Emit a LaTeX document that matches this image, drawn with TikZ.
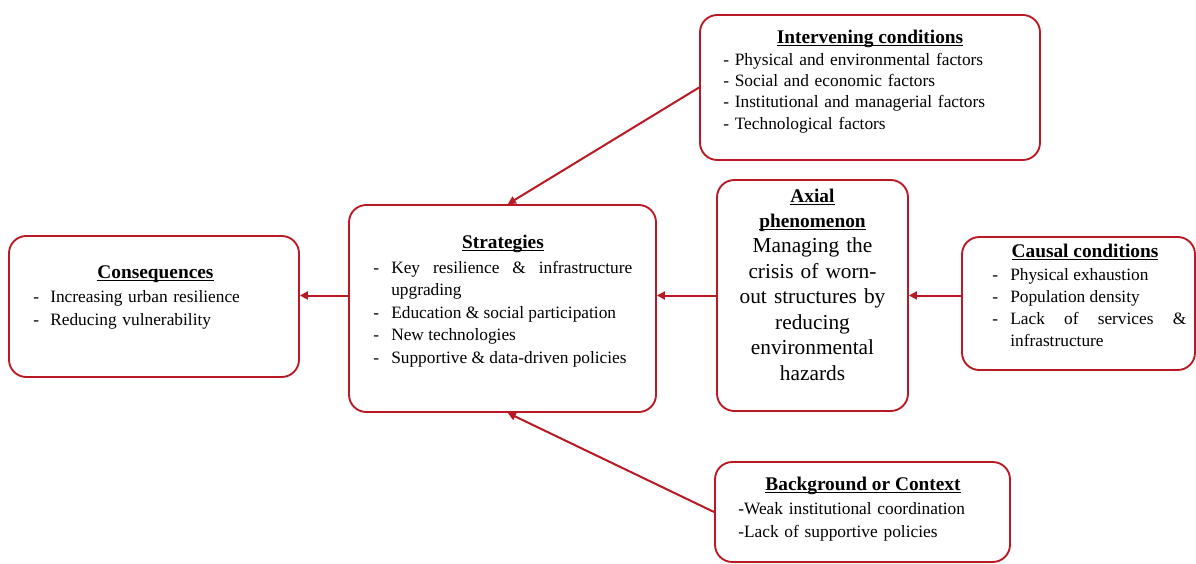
\documentclass[tikz,border=0pt]{standalone}
\usepackage{fontspec}
\setmainfont{Liberation Serif}
\usetikzlibrary{arrows.meta,fit}
\definecolor{bred}{RGB}{185,25,35}
\newcommand{\itm}[2][13.5pt]{\noindent\hangindent=#1\hangafter=1\makebox[#1][l]{-}#2\par}
\newsavebox{\ttlbox}
\newcommand{\ttl}[1]{\sbox{\ttlbox}{\textbf{#1}}\usebox{\ttlbox}\llap{\rule[-1.9pt]{\wd\ttlbox}{0.7pt}}}
\begin{document}
\begin{tikzpicture}[x=0.75pt,y=-0.75pt,
  box/.style={draw=bred, line width=1.4pt, rounded corners=13pt, fill=white, inner sep=0pt},
  arr/.style={draw=bred, line width=1.5pt, -{Triangle[length=6pt,width=6pt]}},
  body/.style={inner sep=0pt, anchor=base west, execute at begin node={\hyphenpenalty=10000\exhyphenpenalty=10000}},
  ttlfont/.style={font=\fontsize{14.5}{17}\selectfont, inner sep=0pt, anchor=base}]
\useasboundingbox (0,0) rectangle (1196,564);

% boxes
\node[box, fit={(700,15) (1040,160)}] (intv) {};
\node[box, fit={(349,205) (656,412)}] (strat) {};
\node[box, fit={(717,180) (908,411)}] (axial) {};
\node[box, fit={(962,237) (1195,370)}] (causal) {};
\node[box, fit={(9,236) (299,377)}] (cons) {};
\node[box, fit={(715,462) (1010,562)}] (bg) {};

% titles
\node[ttlfont] (intvT) at (870,43) {\ttl{Intervening conditions}};
\node[ttlfont] (stratT) at (503,248) {\ttl{Strategies}};
\node[ttlfont] (causalT) at (1085,257) {\ttl{Causal conditions}};
\node[ttlfont] (consT) at (155.5,278) {\ttl{Consequences}};
\node[ttlfont] (bgT) at (863,490) {\ttl{Background or Context}};

% bodies
\node[body, text width=228pt, align=left, font=\fontsize{13}{16.1}\selectfont] (intvB) at (723,65)
  {- Physical and environmental factors\\- Social and economic factors\\- Institutional and managerial factors\\- Technological factors};
\node[body, text width=194.25pt, align=justify, font=\fontsize{13}{16.9}\selectfont] (stratB) at (373,273)
  {\itm{Key resilience \& infrastructure upgrading}\itm{Education \& social participation}\itm{New technologies}\itm{Supportive \& data-driven policies}};
\node[body, text width=145.5pt, align=justify, font=\fontsize{13}{16.5}\selectfont] (causalB) at (992,280)
  {\itm{Physical exhaustion}\itm{Population density}\itm{Lack of services \& infrastructure}};
\node[body, text width=195pt, align=left, font=\fontsize{13}{17.25}\selectfont] (consB) at (33,302)
  {\itm[12.75pt]{Increasing urban resilience}\itm[12.75pt]{Reducing vulnerability}};
\node[body, text width=210pt, align=left, font=\fontsize{13}{17.25}\selectfont] (bgB) at (738,514)
  {-Weak institutional coordination\\-Lack of supportive policies};
\node[inner sep=0pt, anchor=base, align=center, text width=140pt, font=\fontsize{16}{19.1}\selectfont] (axialT) at (812.5,202)
  {\ttl{\fontsize{14.5}{19.1}\selectfont Axial}\\\ttl{\fontsize{14.5}{19.1}\selectfont phenomenon}\\Managing the\\crisis of worn-\\out structures by\\reducing\\environmental\\hazards};

% connectors
\draw[arr] (intv.west) -- ([xshift=4pt]strat.north);
\draw[arr] (axial.west) -- (strat.east |- axial.west);
\draw[arr] (causal.west |- axial.west) -- (axial.east);
\draw[arr] (strat.west |- axial.west) -- (cons.east |- axial.west);
\draw[arr] (bg.west) -- ([xshift=4pt]strat.south);
\end{tikzpicture}
\end{document}
